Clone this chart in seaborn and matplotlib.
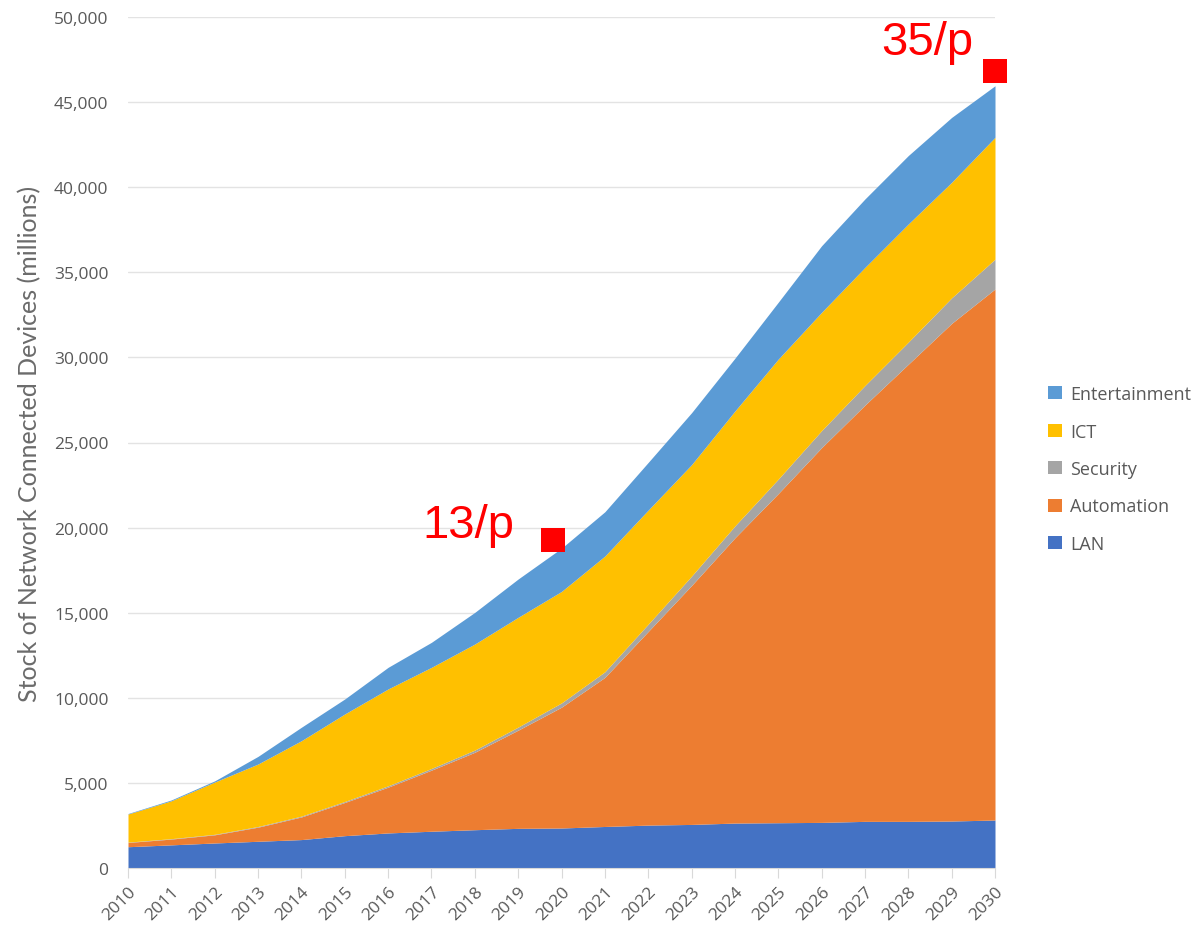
import numpy as np
import pandas as pd
import matplotlib
matplotlib.use("Agg")
import matplotlib.pyplot as plt
import seaborn as sns
from matplotlib.patches import Patch

years = list(range(2010, 2031))
lan = [1250, 1360, 1470, 1570, 1670, 1900, 2060, 2160, 2250, 2330, 2350,
       2440, 2520, 2560, 2640, 2660, 2680, 2740, 2740, 2760, 2820]
automation = [250, 340, 480, 830, 1330, 1950, 2690, 3590, 4550, 5770, 7100,
              8760, 11380, 14040, 16760, 19340, 22020, 24460, 26860, 29240, 31200]
security = [20, 25, 30, 40, 50, 60, 80, 100, 130, 180, 250,
            330, 430, 550, 700, 850, 1000, 1150, 1300, 1500, 1750]
ict = [1650, 2225, 3070, 3670, 4430, 5140, 5690, 5940, 6230, 6450, 6550,
       6800, 6700, 6550, 6750, 7050, 6950, 6940, 6940, 6790, 7160]
entertainment = [30, 50, 70, 450, 790, 880, 1270, 1470, 1860, 2250, 2540,
                 2600, 2800, 3050, 3100, 3340, 3910, 4020, 4020, 3810, 3030]

series_names = ["LAN", "Automation", "Security", "ICT", "Entertainment"]
series_colors = ["#4472C4", "#ED7D31", "#A5A5A5", "#FFC000", "#5B9BD5"]

marker_x = [2019.8, 2030.0]
marker_y = [19300, 46800]
marker_labels = ["13/p", "35/p"]

df = pd.DataFrame({"year": years, "LAN": lan, "Automation": automation,
                   "Security": security, "ICT": ict,
                   "Entertainment": entertainment})

sns.set_theme(style="white")
plt.rcParams["font.family"] = ["Open Sans", "DejaVu Sans"]

fig = plt.figure(figsize=(12.02, 9.29), dpi=100)
ax = fig.add_axes([128 / 1202, 60 / 929, 867 / 1202, 851 / 929])

ax.stackplot(df["year"], [df[n] for n in series_names],
             colors=series_colors, labels=series_names, linewidth=0)

ax.set_xlim(2010, 2030)
ax.set_ylim(0, 50000)
ax.set_yticks(np.arange(0, 50001, 5000))
ax.yaxis.set_major_formatter(matplotlib.ticker.FuncFormatter(lambda v, p: f"{int(v):,}"))
ax.set_xticks(years)
ax.set_xticklabels([str(y) for y in years], rotation=45, ha="right",
                   rotation_mode="anchor")
ax.tick_params(axis="y", length=0, pad=14, labelsize=12.5, labelcolor="#595959")
ax.tick_params(axis="x", length=7, width=0.8, color="#D9D9D9", pad=4,
               labelsize=12.5, labelcolor="#595959", bottom=True, direction="out")
ax.grid(axis="y", color="#E3E3E3", linewidth=1.0)
ax.grid(axis="x", visible=False)
ax.set_axisbelow(True)
for s in ["top", "right", "left"]:
    ax.spines[s].set_visible(False)
ax.spines["bottom"].set_color("#D9D9D9")
ax.spines["bottom"].set_linewidth(0.8)

ax.set_ylabel("Stock of Network Connected Devices (millions)", fontsize=18,
              color="#6B6B6B", labelpad=9, family=["Lato", "DejaVu Sans"])

handles = [Patch(facecolor=c, edgecolor="none", label=n)
           for n, c in zip(series_names, series_colors)][::-1]
leg = fig.legend(handles=handles, loc="center left",
                 bbox_to_anchor=(1032 / 1202, 1 - 470 / 929), frameon=False,
                 fontsize=13, handlelength=0.75, handleheight=0.75,
                 handletextpad=0.45, labelspacing=1.08, labelcolor="#595959")

ax.plot(marker_x, marker_y, linestyle="none", marker="s", markersize=17.5,
        color="red", markeredgewidth=0, clip_on=False, zorder=5)
text_offsets = [(-28, 1.8), (-15.5, 12.6)]
for mx, my, lab, off in zip(marker_x, marker_y, marker_labels, text_offsets):
    ax.annotate(lab, (mx, my), xytext=off, textcoords="offset points",
                ha="right", va="baseline", color="red", fontsize=34,
                family=["Liberation Sans", "DejaVu Sans"], annotation_clip=False)

fig.savefig("out.png", dpi=100)
